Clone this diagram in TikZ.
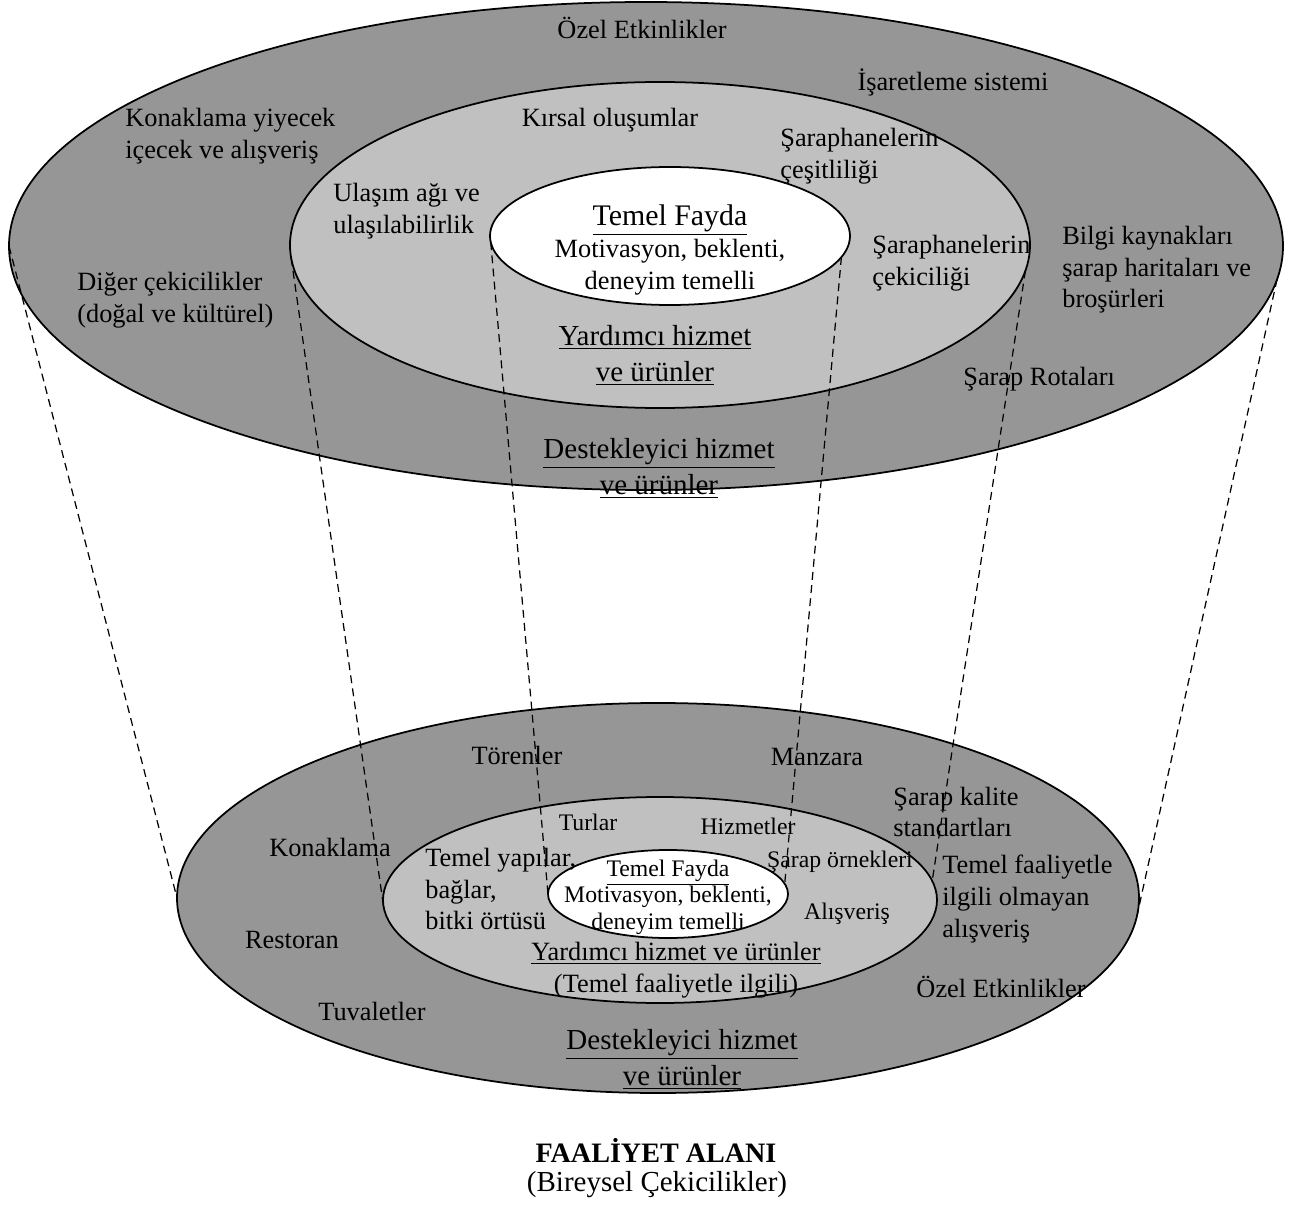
\documentclass[tikz,border=0pt]{standalone}
\usepackage{fontspec}
\setmainfont{Liberation Serif}
\usetikzlibrary{shapes.geometric}
\definecolor{ringdark}{RGB}{150,150,150}
\definecolor{ringlight}{RGB}{192,192,192}
\def\pxu{0.02cm}

\begin{document}
\begin{tikzpicture}[
  x=\pxu, y=-\pxu,
  ring/.style={draw, ellipse, line width=1pt, inner sep=0pt, outer sep=0pt},
  outerring/.style={ring, fill=ringdark},
  midring/.style={ring, fill=ringlight},
  corering/.style={ring, fill=white},
  lbl/.style={font=\fontsize{15}{18}\selectfont, inner sep=0pt},
  lbll/.style={lbl, align=left, anchor=west},
  head/.style={font=\fontsize{16.5}{20.5}\selectfont, inner sep=0pt, align=center},
  sml/.style={font=\fontsize{13.5}{15}\selectfont, inner sep=0pt},
  link/.style={line width=0.7pt, dash pattern=on 4.5pt off 3pt}
]
\useasboundingbox (0,0) rectangle (1289,1206);

\node[outerring, minimum width=1274*\pxu, minimum height=488*\pxu] (topOuter) at (646,246) {};
\node[midring,   minimum width=740*\pxu,  minimum height=326*\pxu] (topMid)   at (660,245) {};
\node[corering,  minimum width=360*\pxu,  minimum height=138*\pxu] (topCore)  at (670,236) {};

\node[outerring, minimum width=962*\pxu, minimum height=390*\pxu] (botOuter) at (658,898) {};
\node[midring,   minimum width=554*\pxu, minimum height=206*\pxu] (botMid)   at (660,900) {};
\node[corering,  minimum width=240*\pxu, minimum height=88*\pxu]  (botCore)  at (668,894) {};

\node[lbl] (topOzel) at (642,28) {Özel Etkinlikler};
\node[lbl] (isaret) at (953,82) {İşaretleme sistemi};
\node[lbll] (topKonak) at (125,136) {Konaklama yiyecek\\içecek ve alışveriş};
\node[lbl] (kirsal) at (610,120) {Kırsal oluşumlar};
\node[lbll] (cesit) at (780,156) {Şaraphanelerin\\çeşitliliği};
\node[lbll] (ulasim) at (333,211) {Ulaşım ağı ve\\ulaşılabilirlik};
\node[lbl, align=center] (topFayda) at (670,250)
  {{\fontsize{17}{18}\selectfont\underline{Temel Fayda}}\\Motivasyon, beklenti,\\deneyim temelli};
\node[lbll] (cekici) at (872,263) {Şaraphanelerin\\çekiciliği};
\node[lbll] (bilgi) at (1062,270) {Bilgi kaynakları\\şarap haritaları ve\\broşürleri};
\node[lbll] (diger) at (77,300) {Diğer çekicilikler\\(doğal ve kültürel)};
\node[head] (topYard) at (655,355) {\underline{Yardımcı hizmet}\\\underline{ve ürünler}};
\node[lbll] (rota) at (963,379) {Şarap Rotaları};
\node[head] (topDestek) at (659,468) {\underline{Destekleyici hizmet}\\\underline{ve ürünler}};

\node[lbl] (toren) at (517,755) {Törenler};
\node[lbl] (manzara) at (817,757) {Manzara};
\node[lbll] (kalite) at (893,812) {Şarap kalite\\standartları};
\node[sml] (turlar) at (588,822) {Turlar};
\node[sml] (hizmet) at (748,826) {Hizmetler};
\node[lbl] (botKonak) at (330,847) {Konaklama};
\node[lbll] (yapilar) at (425,889) {Temel yapılar,\\bağlar,\\bitki örtüsü};
\node[sml, align=center] (botFayda) at (668,897)
  {\underline{Temel Fayda}\\Motivasyon, beklenti,\\deneyim temelli};
\node[sml] (ornek) at (840,862) {Şarap örnekleri};
\node[lbll] (faal) at (942,899) {Temel faaliyetle\\ilgili olmayan\\alışveriş};
\node[sml] (alis) at (847,914) {Alışveriş};
\node[lbl] (restoran) at (292,940) {Restoran};
\node[lbl, align=center] (botYard) at (676,970) {\underline{Yardımcı hizmet ve ürünler}\\(Temel faaliyetle ilgili)};
\node[lbl] (botOzel) at (1001,987) {Özel Etkinlikler};
\node[lbl] (tuval) at (372,1011) {Tuvaletler};
\node[head] (botDestek) at (682,1059) {\underline{Destekleyici hizmet}\\\underline{ve ürünler}};

\node[font=\fontsize{16}{18}\selectfont\bfseries, inner sep=0pt] (alan) at (656,1150) {FAALİYET ALANI};
\node[font=\fontsize{16.5}{18}\selectfont, inner sep=0pt] (bireysel) at (657,1185) {(Bireysel Çekicilikler)};

\draw[link] (topOuter.west) -- (botOuter.west);
\draw[link] (topOuter.-3)   -- (botOuter.-2);
\draw[link] (topMid.182)    -- (botMid.181);
\draw[link] (topMid.-4)     -- (botMid.4);
\draw[link] (topCore.182)   -- (botCore.180);
\draw[link] (topCore.-7)    -- (botCore.5);
\end{tikzpicture}
\end{document}
